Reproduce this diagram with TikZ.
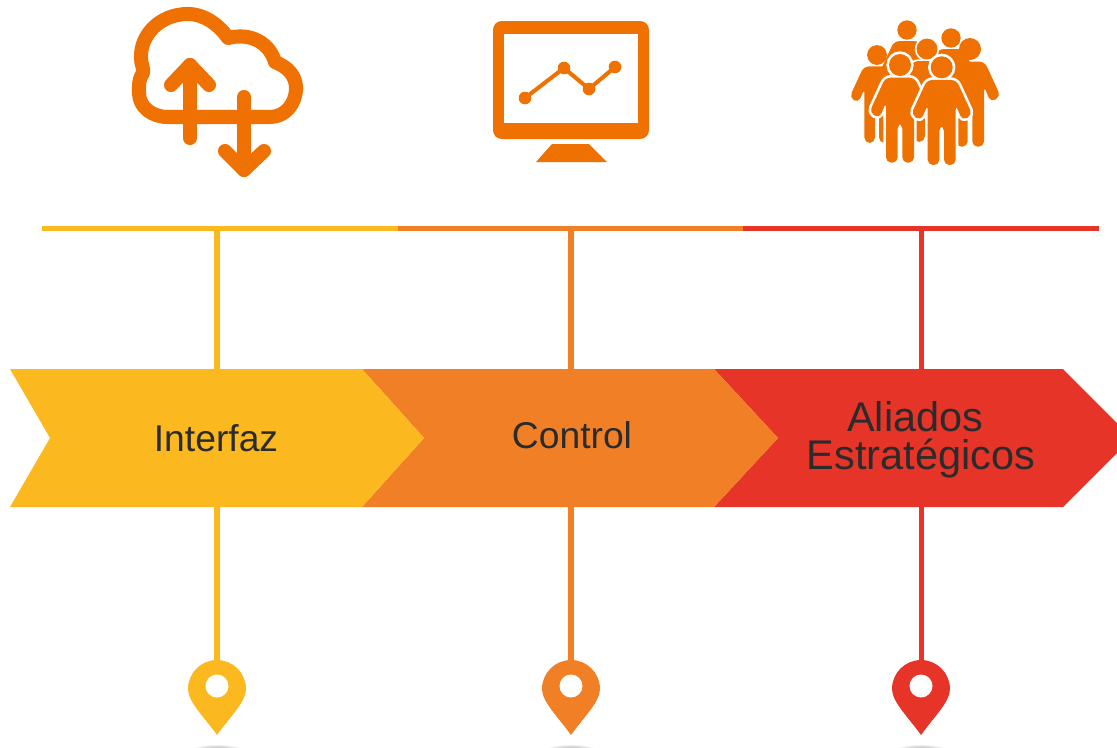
\documentclass[tikz,border=0pt]{standalone}
\usepackage{fontspec}
\setmainfont{Liberation Sans}
\usetikzlibrary{positioning}
\definecolor{amarillo}{HTML}{FBB91F}
\definecolor{naranja}{HTML}{F07F26}
\definecolor{rojo}{HTML}{E73428}
\definecolor{icono}{HTML}{EF7102}
\definecolor{texto}{HTML}{2B2B2B}
\tikzset{
  linea/.style={line width=2.85pt},
  trazo/.style={icono,line width=8pt,line cap=round,line join=round},
  rotulo/.style={text=texto,align=center,font=\fontsize{21.2}{21.6}\selectfont},
  rotulog/.style={text=texto,align=center,font=\fontsize{23.6}{21.6}\selectfont}
}
\newcommand{\cuerpo}{(-44,38) -- (44,38) -- (92,142) -- (62,160) -- (42,112) -- (42,293) -- (7,293) -- (7,175) -- (-7,175) -- (-7,293) -- (-42,293) -- (-42,112) -- (-62,160) -- (-92,142) -- cycle}
\newcommand{\persona}[4]{
\begin{scope}[shift={(#1,#2)},scale=#3/3]
\ifnum#4>0
\fill [white,draw=white,line width=#4pt,line join=round] (0,0) circle (33);
\draw [white,fill=white,line width=#4pt,line join=round,rounded corners=3pt] \cuerpo;
\fi
\fill [icono] (0,0) circle (33);
\fill [icono,rounded corners=3pt] \cuerpo;
\end{scope}
}
\begin{document}
\begin{tikzpicture}[x=0.02cm,y=-0.02cm]
\clip (0,0) rectangle (1117,748);
% nube
\draw [trazo] (168,117) -- (270,117) .. controls (285,117) and (296,104) .. (296,88)
  .. controls (296,76) and (288,67) .. (275,62) .. controls (270,44) and (252,32) .. (228,38)
  .. controls (220,26) and (205,14) .. (188,14) .. controls (160,14) and (140,35) .. (141,58)
  .. controls (141,65) and (144,68) .. (143,73) .. controls (138,80) and (139,88) .. (139,93)
  .. controls (139,107) and (152,117) .. (168,117) -- cycle;
\draw [trazo] (190,138) -- (190,65);
\draw [trazo] (171,85) -- (190,65) -- (209,85);
\draw [trazo] (244,97) -- (244,170);
\draw [trazo] (225,151) -- (244,170) -- (264,151);
% pantalla
\fill [icono,rounded corners=5pt] (493,21) rectangle (649,139);
\fill [white] (504,34) rectangle (638,123);
\fill [icono] (552,144) -- (589,144) -- (607,162) -- (536,162) -- cycle;
\coordinate (p1) at (525,98);
\coordinate (p2) at (564,68);
\coordinate (p3) at (589,89);
\coordinate (p4) at (615,67);
\draw [icono,line width=2.3pt] (p1) -- (p2) -- (p3) -- (p4);
\foreach \p in {p1,p2,p3,p4} \fill [icono] (\p) circle (6.3);
% grupo
\persona{907}{30}{0.88}{0}
\persona{951}{38}{0.88}{0}
\persona{877}{55}{0.9}{0}
\persona{970}{49}{1}{0}
\persona{927}{49}{0.95}{2}
\persona{900}{65}{1}{3}
\persona{941.7}{67.3}{1}{3}
% linea superior
\coordinate (a1) at (42,228);
\coordinate (a2) at (398,228);
\coordinate (a3) at (743,228);
\coordinate (a4) at (1099,228);
\draw [linea,amarillo] (a1) -- (a2);
\draw [linea,naranja] (a2) -- (a3);
\draw [linea,rojo] (a3) -- (a4);
% verticales
\foreach \n/\x/\c in {1/217/amarillo,2/571/naranja,3/921/rojo}{
  \coordinate (t\n) at (\x,228);
  \coordinate (f\n) at (\x,662);
  \draw [linea,\c] (t\n) -- (f\n);
  % sombra y pin
  \shade [inner color=black!40,outer color=white] (\x,750) ellipse (26 and 6);
  \fill [\c] (\x-29,689) arc [start angle=180,end angle=360,radius=29]
    .. controls (\x+29,702) and (\x+12,718) .. (\x,735)
    .. controls (\x-12,718) and (\x-29,702) .. (\x-29,689) -- cycle;
  \fill [white] (\x,686) circle (11.5);
}
% flechas
\fill [rojo] (714,369) -- (1063,369) -- (1117,423) -- (1117,453) -- (1063,507) -- (714,507) -- (778,438) -- cycle;
\fill [naranja] (362,369) -- (714,369) -- (778,438) -- (714,507) -- (362,507) -- (424,438) -- cycle;
\fill [amarillo] (10,369) -- (362,369) -- (424,438) -- (362,507) -- (10,507) -- (50,438) -- cycle;
\node [rotulo] (interfaz) at (216,438) {Interfaz};
\node [rotulo] (control) at (572,435) {Control};
\node [rotulog] (aliados) at (921,440) {\hspace*{-6.6pt}Aliados\\Estratégicos};
\end{tikzpicture}
\end{document}
